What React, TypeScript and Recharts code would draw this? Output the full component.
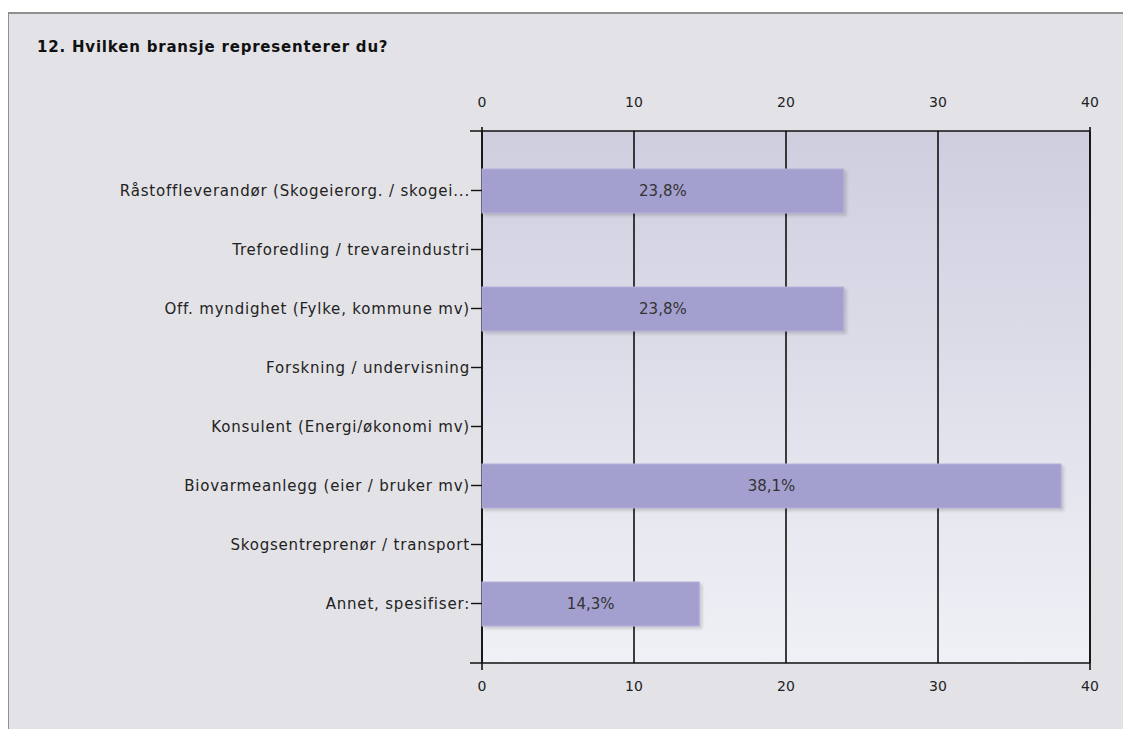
import React from "react";
import {
  BarChart,
  Bar,
  XAxis,
  YAxis,
  CartesianGrid,
  LabelList,
  usePlotArea,
} from "recharts";

const categories = [
  "Råstoffleverandør (Skogeierorg. / skogei...",
  "Treforedling / trevareindustri",
  "Off. myndighet (Fylke, kommune mv)",
  "Forskning / undervisning",
  "Konsulent (Energi/økonomi mv)",
  "Biovarmeanlegg (eier / bruker mv)",
  "Skogsentreprenør / transport",
  "Annet, spesifiser:",
];
const percents = [23.8, 0, 23.8, 0, 0, 38.1, 0, 14.3];
const xTicks = [0, 10, 20, 30, 40];

const data = categories.map((name, i) => ({ name, value: percents[i], zero: 0 }));

const FONT = "'DejaVu Sans', Verdana, sans-serif";

const fmt = (v: any) =>
  Number(v) > 0 ? `${Number(v).toFixed(1).replace(".", ",")}%` : "";

const BarShape = (props: any) => {
  const { x, y, width, height } = props;
  if (!width || width <= 0) return null;
  return (
    <g>
      <rect
        x={x + 2}
        y={y + 2}
        width={width + 1}
        height={height + 1}
        fill="#000"
        opacity={0.14}
        filter="url(#barShadow)"
      />
      <rect x={x} y={y} width={width} height={height} fill="#a3a0cf" stroke="#b4b2da" strokeWidth={1} />
    </g>
  );
};

const NoShape = () => null;

const AxisExtensions = () => {
  const area = usePlotArea();
  if (!area) return null;
  const { x, y, width, height } = area;
  return (
    <g stroke="#111" strokeWidth={1.6}>
      <line x1={x - 12} y1={y} x2={x + width} y2={y} />
      <line x1={x - 12} y1={y + height} x2={x + width} y2={y + height} />
      <line x1={x} y1={y - 4} x2={x} y2={y + height + 7} />
      <line x1={x + width} y1={y - 4} x2={x + width} y2={y + height + 7} />
    </g>
  );
};

const tickStyle = { fill: "#222", fontSize: 14, fontFamily: FONT };
const catStyle = { fill: "#222", fontSize: 15, fontFamily: FONT, letterSpacing: 0.8 };

export default function App() {
  return (
    <div style={{ position: "relative", left: -8, top: -8, width: 1131, height: 729 }}>
      <div
        style={{
          position: "absolute",
          left: 7,
          top: 12,
          width: 1130,
          height: 716,
          background: "#e3e2e7",
          borderTop: "2px solid #8f8f8f",
          borderLeft: "2px solid #8f8f8f",
        }}
      />
      <div
        style={{
          position: "absolute",
          left: 37,
          top: 38,
          fontFamily: FONT,
          fontWeight: "bold",
          fontSize: 15,
          letterSpacing: 0.8,
          color: "#111",
        }}
      >
        12. Hvilken bransje representerer du?
      </div>
      <div style={{ position: "absolute", left: 0, top: 0 }}>
        <BarChart
          width={1131}
          height={729}
          data={data}
          layout="vertical"
          margin={{ top: 101, right: 41, bottom: 36, left: 0 }}
          barSize={44}
        >
          <defs>
            <linearGradient id="plotBg" x1="0" y1="0" x2="0" y2="1">
              <stop offset="0%" stopColor="#cecedf" />
              <stop offset="100%" stopColor="#f0f1f6" />
            </linearGradient>
            <filter id="barShadow" x="-10%" y="-30%" width="120%" height="160%">
              <feGaussianBlur stdDeviation="1.5" />
            </filter>
          </defs>
          <CartesianGrid
            horizontal={false}
            vertical
            xAxisId="top"
            stroke="#111"
            strokeWidth={1.6}
            fill="url(#plotBg)"
            fillOpacity={1}
          />
          <XAxis
            xAxisId="top"
            orientation="top"
            type="number"
            domain={[0, 40]}
            ticks={xTicks}
            height={30}
            axisLine={false}
            tickLine={false}
            tickMargin={18}
            tick={tickStyle}
          />
          <XAxis
            xAxisId="bottom"
            orientation="bottom"
            type="number"
            domain={[0, 40]}
            ticks={xTicks}
            height={30}
            axisLine={false}
            tickLine={false}
            tickMargin={12}
            tick={tickStyle}
          />
          <YAxis
            type="category"
            dataKey="name"
            width={482}
            padding={{ top: 30, bottom: 30 }}
            axisLine={false}
            tickLine={{ stroke: "#111", strokeWidth: 1.4 }}
            tickSize={11}
            tickMargin={1}
            interval={0}
            tick={catStyle}
          />
          <Bar
            dataKey="value"
            xAxisId="top"
            stackId="s"
            shape={<BarShape />}
            isAnimationActive={false}
          >
            <LabelList
              dataKey="value"
              position="center"
              formatter={fmt}
              fill="#333"
              fontSize={15}
              fontFamily={FONT}
            />
          </Bar>
          <Bar
            dataKey="zero"
            xAxisId="bottom"
            stackId="s"
            shape={<NoShape />}
            isAnimationActive={false}
          />
          <AxisExtensions />
        </BarChart>
      </div>
    </div>
  );
}
